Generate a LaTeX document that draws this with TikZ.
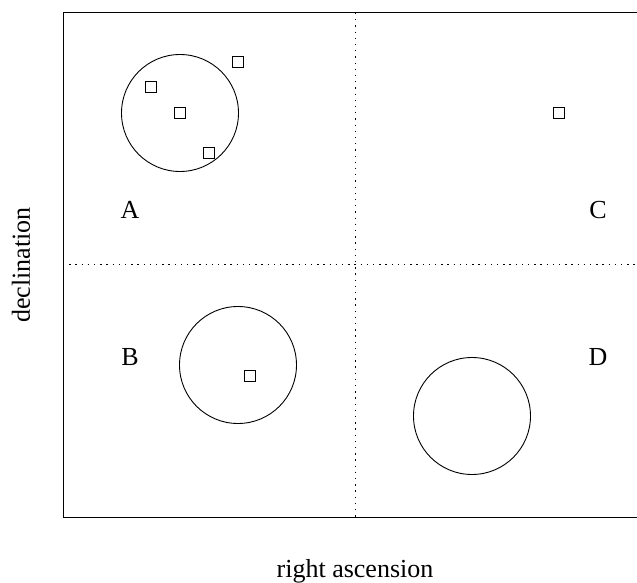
\documentclass[tikz,border=0pt]{standalone}
\usepackage{fontspec}
\setmainfont{Liberation Serif}
\begin{document}
\begin{tikzpicture}[x=1pt, y=-1pt,
  field/.style={draw, circle, line width=0.9pt, minimum size=117pt, inner sep=0pt},
  src/.style={draw, rectangle, line width=0.9pt, minimum size=11pt, inner sep=0pt},
  divider/.style={line width=1pt, dash pattern=on 1.3pt off 4.9pt},
  quad/.style={font=\fontsize{26}{29}\selectfont}]
  \useasboundingbox (0,0) rectangle (637,583);
  % frame and quadrant lines
  \draw[line width=1pt] (637,13) -- (63,13) -- (63,517) -- (637,517);
  \draw[divider] (355,13) -- (355,517);
  \draw[divider] (63,264) -- (637,264);
  % fields of view
  \node[field] (fa) at (180,113) {};
  \node[field] (fb) at (238,365) {};
  \node[field] (fd) at (472,416) {};
  % sources
  \node[src] (s1) at (238,62) {};
  \node[src] (s2) at (151,87) {};
  \node[src] (s3) at (180,113) {};
  \node[src] (s4) at (209,153) {};
  \node[src] (s5) at (559,113) {};
  \node[src] (s6) at (250,376) {};
  % quadrant labels
  \node[quad] (la) at (130,210) {A};
  \node[quad] (lb) at (130,357) {B};
  \node[quad] (lc) at (598,210) {C};
  \node[quad] (ld) at (598,357) {D};
  % axis labels
  \node[quad, rotate=90] (ydec) at (21,265) {declination};
  \node[quad] (xra) at (355,571) {right ascension};
\end{tikzpicture}
\end{document}
